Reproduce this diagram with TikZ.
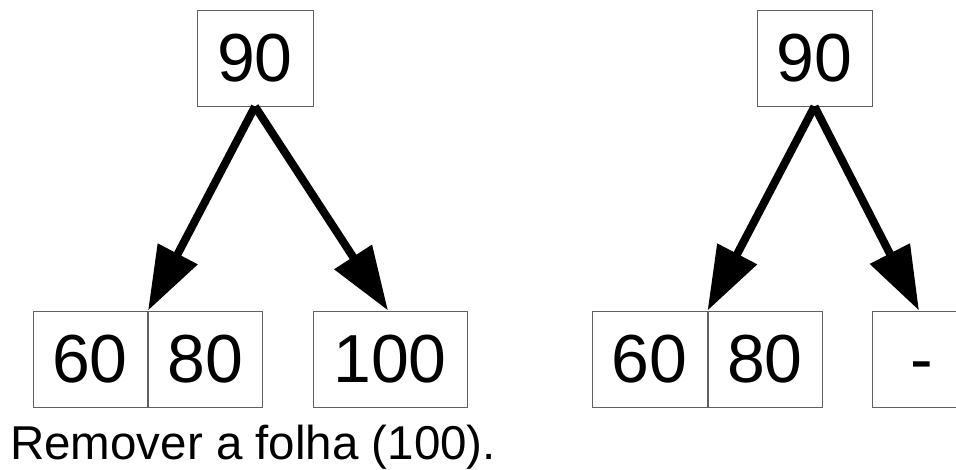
\documentclass[tikz,border=0pt]{standalone}
\usepackage{fontspec}
\setmainfont{Liberation Sans}
\usetikzlibrary{arrows.meta}
\definecolor{boxgray}{HTML}{606060}
\tikzset{
  keybox/.style={draw=boxgray, line width=0.9pt, inner sep=0pt, minimum height=96pt,
    font=\fontsize{68}{80}\selectfont},
  treearrow/.style={line width=8pt, -{Triangle[length=64pt,width=43pt]}},
  caption/.style={font=\fontsize{47.5}{56}\selectfont, inner sep=0pt, anchor=base west}
}
\begin{document}
\begin{tikzpicture}[x=1pt,y=1pt]
\useasboundingbox (0,0) rectangle (956,469);
% left tree
\node[keybox, minimum width=116pt] (L90) at (255,411) {90};
\node[keybox, minimum width=114pt] (L60) at (90,110) {60};
\node[keybox, minimum width=114pt] (L80) at (205.5,110) {80};
\node[keybox, minimum width=154pt] (L100) at (390,110) {100};
\draw[treearrow] (L90.south) -- (L80.north west);
\draw[treearrow] (L90.south) -- ([xshift=-2pt]L100.north);
\node[caption] (cap) at (10,10) {Remover a folha (100).};
% right tree
\node[keybox, minimum width=115pt] (R90) at (814.5,411) {90};
\node[keybox, minimum width=115pt] (R60) at (649.5,110) {60};
\node[keybox, minimum width=114pt] (R80) at (765,110) {80};
\node[keybox, minimum width=100pt] (Rd) at (922,110) {\vphantom{0}-};
\draw[treearrow] (R90.south) -- (R80.north west);
\draw[treearrow] (R90.south) -- ([xshift=-3pt]Rd.north);
\end{tikzpicture}
\end{document}
